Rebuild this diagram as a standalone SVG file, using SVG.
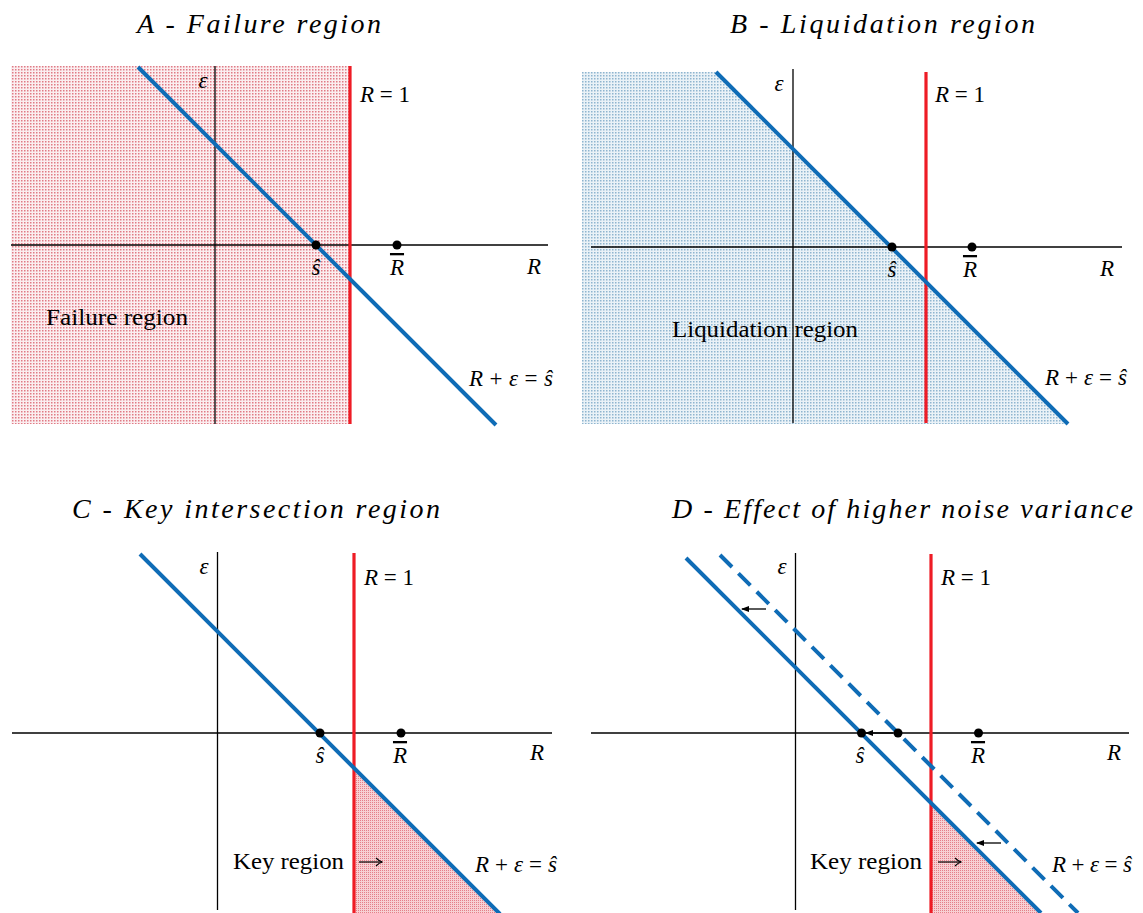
<svg xmlns="http://www.w3.org/2000/svg" width="1143" height="913" viewBox="0 0 1143 913">
<style>
.t{font-family:"Liberation Serif","Times New Roman",serif;fill:#000}
.title{font-size:28px;font-style:italic}
.lab{font-size:24px}
.m{font-size:23px}
.i{font-style:italic}
.ax{stroke:#000;stroke-width:1.3;fill:none}
.red{stroke:#ee1c25;stroke-width:3.2;fill:none}
.blue{stroke:#0f6cb6;stroke-width:4;fill:none}
.dash{stroke:#0f6cb6;stroke-width:4;fill:none;stroke-dasharray:17 9}
.arr{stroke:#000;stroke-width:1.3;fill:none;marker-end:url(#ah)}
.karr{stroke:#000;stroke-width:1.2;fill:none;marker-end:url(#oh)}
</style>
<defs>
<pattern id="pinkDots" width="3" height="3" patternUnits="userSpaceOnUse">
<rect width="3" height="3" fill="#fbeef0"/>
<rect width="1.5" height="1.5" fill="#e07a85"/>
</pattern>
<pattern id="blueDots" width="3" height="3" patternUnits="userSpaceOnUse">
<rect width="3" height="3" fill="#eaf2f7"/>
<rect width="1.5" height="1.5" fill="#8fb5cf"/>
</pattern>
<pattern id="keyDots" width="2" height="2" patternUnits="userSpaceOnUse">
<rect width="2" height="2" fill="#f7d0d3"/>
<rect width="1" height="1" fill="#e57f89"/>
</pattern>
<marker id="ah" markerWidth="8" markerHeight="6" refX="7" refY="3" orient="auto" markerUnits="userSpaceOnUse">
<path d="M0,0 L8,3 L0,6 Z" fill="#000"/>
</marker>
<marker id="oh" markerWidth="10" markerHeight="10" refX="7" refY="5" orient="auto" markerUnits="userSpaceOnUse">
<path d="M1,1 Q4,4.2 7.5,5 Q4,5.8 1,9" fill="none" stroke="#000" stroke-width="1.1"/>
</marker>
</defs>
<rect width="1143" height="913" fill="#fff"/>

<g id="panelA">
<rect x="11" y="66" width="339" height="358" fill="url(#pinkDots)"/>
<line class="ax" x1="215" y1="66" x2="215" y2="424"/>
<line class="ax" x1="11" y1="245" x2="548" y2="245"/>
<line class="red" x1="350" y1="66" x2="350" y2="424"/>
<line class="blue" x1="138" y1="67" x2="496" y2="425"/>
<circle cx="316" cy="245" r="4.5"/>
<circle cx="397" cy="245" r="4.5"/>
<text class="t title" x="137" y="33" textLength="244" lengthAdjust="spacing">A - Failure region</text>
<text class="t m i" x="203" y="88" text-anchor="middle">ε</text>
<text class="t m" x="360" y="102"><tspan class="i">R</tspan> = 1</text>
<text class="t m i" x="316" y="275" text-anchor="middle">ŝ</text>
<text class="t m i" x="397" y="275" text-anchor="middle" text-decoration="overline">R</text>
<text class="t m i" x="534" y="274" text-anchor="middle">R</text>
<text class="t lab" x="46" y="325" textLength="142" lengthAdjust="spacingAndGlyphs">Failure region</text>
<text class="t m" x="469" y="386" textLength="84" lengthAdjust="spacing"><tspan class="i">R</tspan> + <tspan class="i">ε</tspan> = <tspan class="i">ŝ</tspan></text>
</g>

<g id="panelB">
<polygon points="582,72 716,72 1068,424 582,424" fill="url(#blueDots)"/>
<line class="ax" x1="793" y1="69" x2="793" y2="423"/>
<line class="ax" x1="591" y1="247" x2="1122" y2="247"/>
<line class="red" x1="926" y1="72" x2="926" y2="423"/>
<line class="blue" x1="716" y1="72" x2="1068" y2="424"/>
<circle cx="892" cy="247" r="4.5"/>
<circle cx="972" cy="247" r="4.5"/>
<text class="t title" x="730" y="33" textLength="305" lengthAdjust="spacing">B - Liquidation region</text>
<text class="t m i" x="779" y="91" text-anchor="middle">ε</text>
<text class="t m" x="935" y="102"><tspan class="i">R</tspan> = 1</text>
<text class="t m i" x="892" y="277" text-anchor="middle">ŝ</text>
<text class="t m i" x="970" y="277" text-anchor="middle" text-decoration="overline">R</text>
<text class="t m i" x="1107" y="276" text-anchor="middle">R</text>
<text class="t lab" x="672" y="337" textLength="186" lengthAdjust="spacingAndGlyphs">Liquidation region</text>
<text class="t m" x="1045" y="385" textLength="82" lengthAdjust="spacing"><tspan class="i">R</tspan> + <tspan class="i">ε</tspan> = <tspan class="i">ŝ</tspan></text>
</g>

<g id="panelC">
<polygon points="354,767 354,913 500,913" fill="url(#keyDots)"/>
<line class="ax" x1="217.5" y1="552" x2="217.5" y2="910"/>
<line class="ax" x1="12" y1="733" x2="552" y2="733"/>
<line class="red" x1="354" y1="553" x2="354" y2="913"/>
<line class="blue" x1="140" y1="554" x2="500" y2="914"/>
<circle cx="320" cy="733" r="4.5"/>
<circle cx="401" cy="733" r="4.5"/>
<text class="t title" x="72" y="518" textLength="368" lengthAdjust="spacing">C - Key intersection region</text>
<text class="t m i" x="204" y="574" text-anchor="middle">ε</text>
<text class="t m" x="364" y="585"><tspan class="i">R</tspan> = 1</text>
<text class="t m i" x="320" y="763" text-anchor="middle">ŝ</text>
<text class="t m i" x="400" y="763" text-anchor="middle" text-decoration="overline">R</text>
<text class="t m i" x="537" y="760" text-anchor="middle">R</text>
<text class="t lab" x="233" y="869" textLength="111" lengthAdjust="spacingAndGlyphs">Key region</text>
<text class="t m" x="475" y="872" textLength="82" lengthAdjust="spacing"><tspan class="i">R</tspan> + <tspan class="i">ε</tspan> = <tspan class="i">ŝ</tspan></text>
</g>

<g id="panelD">
<polygon points="931,802.5 931,913 1041,913" fill="url(#keyDots)"/>
<line class="ax" x1="795.5" y1="553" x2="795.5" y2="910"/>
<line class="ax" x1="591" y1="733" x2="1129" y2="733"/>
<line class="red" x1="931" y1="554" x2="931" y2="913"/>
<line class="blue" x1="686" y1="558" x2="1041" y2="913"/>
<line class="dash" x1="720" y1="555" x2="1078" y2="913"/>
<circle cx="861.5" cy="733" r="4.5"/>
<circle cx="898" cy="733" r="4.5"/>
<circle cx="978.5" cy="733" r="4.5"/>
<text class="t title" x="672" y="518" textLength="461" lengthAdjust="spacing">D - Effect of higher noise variance</text>
<text class="t m i" x="782" y="574" text-anchor="middle">ε</text>
<text class="t m" x="941" y="585"><tspan class="i">R</tspan> = 1</text>
<text class="t m i" x="860" y="763" text-anchor="middle">ŝ</text>
<text class="t m i" x="978" y="763" text-anchor="middle" text-decoration="overline">R</text>
<text class="t m i" x="1114" y="760" text-anchor="middle">R</text>
<text class="t lab" x="810" y="869" textLength="112" lengthAdjust="spacingAndGlyphs">Key region</text>
<text class="t m" x="1052" y="872" textLength="80" lengthAdjust="spacing"><tspan class="i">R</tspan> + <tspan class="i">ε</tspan> = <tspan class="i">ŝ</tspan></text>
</g>

<g id="connectors">
<line class="arr" x1="893" y1="733" x2="866" y2="733"/>
<line class="arr" x1="766" y1="609" x2="742" y2="609"/>
<line class="arr" x1="1001" y1="843" x2="977" y2="843"/>
<line class="karr" x1="359" y1="862" x2="382" y2="862"/>
<line class="karr" x1="938" y1="862" x2="961" y2="862"/>
</g>
</svg>
